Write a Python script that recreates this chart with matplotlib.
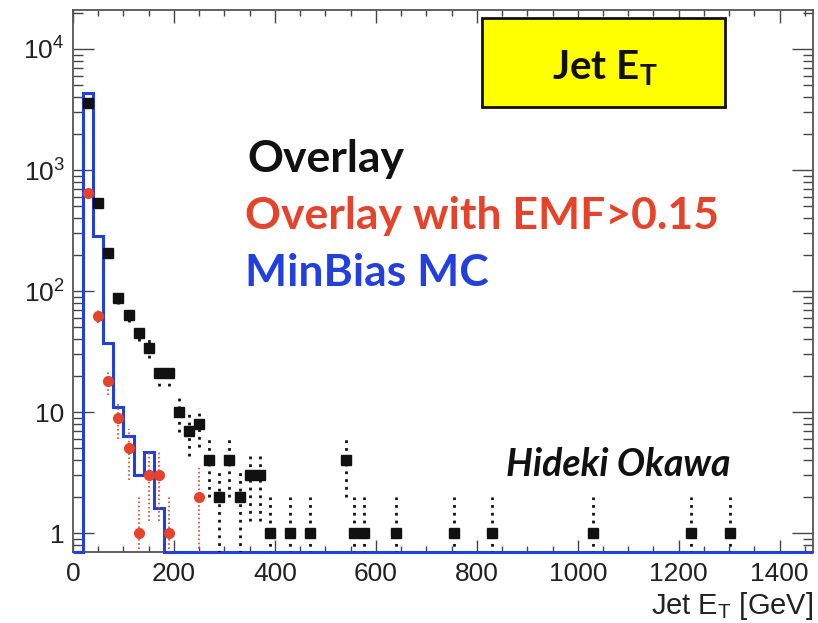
import numpy as np
import matplotlib
matplotlib.use("Agg")
import matplotlib.pyplot as plt
from matplotlib.ticker import FixedLocator, MultipleLocator, NullFormatter
from matplotlib.patches import Rectangle

# Overlay data: jet ET bin centres [GeV] and entries
overlay_et = [30, 50, 70, 90, 110, 130, 150, 170, 190, 210, 230, 250, 270, 290,
              310, 330, 350, 370, 390, 430, 470, 540, 557, 577, 640, 755, 831,
              1030, 1225, 1302]
overlay_n = [3600, 530, 205, 88, 63, 45, 34, 21, 21, 10, 7, 8, 4, 2,
             4, 2, 3, 3, 1, 1, 1, 4, 1, 1, 1, 1, 1,
             1, 1, 1]

# Overlay with EMF > 0.15
emf_et = [30, 50, 70, 90, 110, 130, 150, 170, 190, 250]
emf_n = [650, 62, 18, 9, 5, 1, 3, 3, 1, 2]

# MinBias MC histogram
mc_edges = [20, 40, 60, 80, 100, 120, 140, 160, 180]
mc_vals = [4330, 285, 37, 11, 6.3, 3, 4.7, 1.6]

x_ticks = [0, 200, 400, 600, 800, 1000, 1200, 1400]
x_range = (0, 1466)
y_range = (0.697, 21000)

black = "#111111"
red = "#e5432a"
blue = "#2240dd"
label_font = ["Liberation Sans Narrow", "Liberation Sans", "DejaVu Sans"]
text_font = ["Lato", "DejaVu Sans"]

fig = plt.figure(figsize=(8.18, 6.23), dpi=100)
ax = fig.add_axes([73 / 818, 71 / 623, 740 / 818, 542 / 623])
ax.set_yscale("log")
ax.set_xlim(*x_range)
ax.set_ylim(*y_range)

# MinBias MC as a step histogram; empty bins sit on the lower axis edge
edges = np.concatenate(([x_range[0]], mc_edges, [x_range[1]]))
vals = np.concatenate(([y_range[0]], mc_vals, [y_range[0]]))
ax.stairs(vals, edges, baseline=None, color=blue, lw=2.2, zorder=3, clip_on=False)

# Poisson error bars
on = np.array(overlay_n, dtype=float)
oe = np.sqrt(on)
ax.vlines(overlay_et, np.maximum(on - oe, 1e-3), on + oe, colors=black,
          linestyles=(0, (1.0, 1.8)), lw=2.0, zorder=4)
ax.plot(overlay_et, overlay_n, ls="none", marker="s", ms=7.5, color=black,
        mec=black, zorder=5)

en = np.array(emf_n, dtype=float)
ee = np.sqrt(en)
ax.vlines(emf_et, np.maximum(en - ee, 1e-3), en + ee, colors=red,
          linestyles=(0, (1, 1.5)), lw=1.2, zorder=4)
ax.plot(emf_et, emf_n, ls="none", marker="o", ms=7, color=red, mec=red, zorder=5)

# Axes styling
for s in ax.spines.values():
    s.set_color("#555555")
    s.set_linewidth(1.3)
ax.xaxis.set_major_locator(FixedLocator(x_ticks))
ax.xaxis.set_minor_locator(MultipleLocator(50))
ax.yaxis.set_major_locator(FixedLocator([1, 10, 100, 1000, 10000]))
ax.yaxis.set_minor_locator(FixedLocator(
    [m * 10 ** e for e in range(-1, 5) for m in range(2, 10)]))
ax.yaxis.set_minor_formatter(NullFormatter())
ax.set_yticklabels(["1", "10", r"$\mathregular{10^2}$", r"$\mathregular{10^3}$",
                    r"$\mathregular{10^4}$"])
ax.tick_params(which="both", direction="in", top=True, right=True,
               color="#444444", width=1.0)
ax.tick_params(axis="y", which="major", length=15, pad=6)
ax.tick_params(axis="y", which="minor", length=7.5)
ax.tick_params(axis="x", which="major", length=9, pad=7)
ax.tick_params(axis="x", which="minor", length=4.5)
for lab in ax.get_xticklabels() + ax.get_yticklabels():
    lab.set_fontfamily(label_font)
    lab.set_fontsize(19)
    lab.set_color("#222222")
ax.set_xlabel(r"Jet E$_\mathregular{T}$ [GeV]", fontsize=21, family=label_font,
              color="#222222", loc="right", labelpad=3)

# Legend text
ax.text(0.236, 0.701, "Overlay", transform=ax.transAxes, fontsize=32,
        fontweight="bold", family=text_font, color=black, va="baseline")
ax.text(0.233, 0.596, "Overlay with EMF>0.15", transform=ax.transAxes,
        fontsize=32, fontweight="bold", family=text_font, color=red,
        va="baseline")
ax.text(0.233, 0.491, "MinBias MC", transform=ax.transAxes, fontsize=32,
        fontweight="bold", family=text_font, color=blue, va="baseline")
ax.text(0.585, 0.140, "Hideki Okawa", transform=ax.transAxes, fontsize=27,
        fontweight="bold", style="italic", family=text_font, color=black,
        va="baseline")

# Title box
ax.add_patch(Rectangle((409 / 740, 1 - 97 / 542), 243 / 740, 89 / 542,
                       transform=ax.transAxes, facecolor="#ffff00",
                       edgecolor="#111111", lw=2, zorder=6))
ax.text(532 / 740, 1 - 58 / 542, r"Jet E$_\mathregular{T}$", transform=ax.transAxes,
        fontsize=29, fontweight="bold", family=text_font, color=black,
        ha="center", va="center", zorder=7)

fig.savefig("out.png", dpi=100)
